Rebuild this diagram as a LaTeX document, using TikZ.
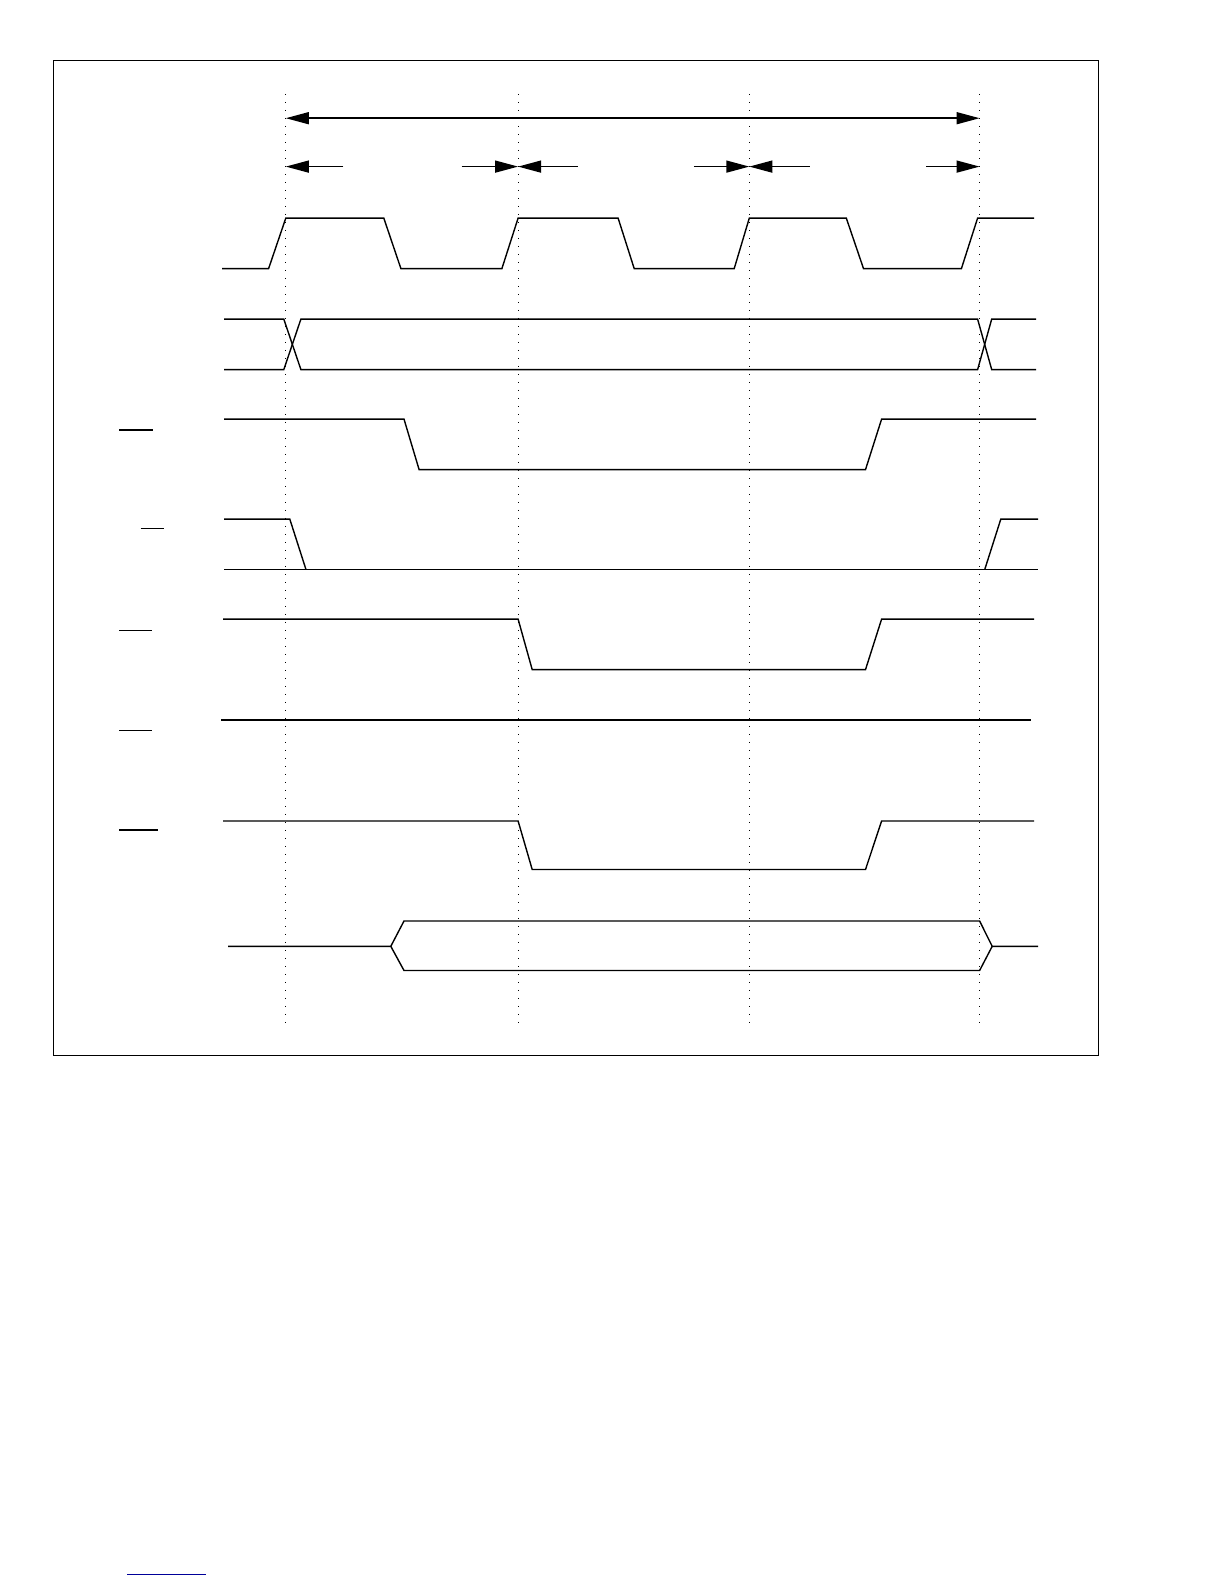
\documentclass[tikz,border=0pt]{standalone}
\usetikzlibrary{arrows.meta}
\begin{document}
\begin{tikzpicture}[x=0.5pt,y=-0.5pt,
  sig/.style={line width=0.7pt,line join=miter},
  guide/.style={line width=0.6pt,dash pattern=on 0.6pt off 3.4pt},
  dim/.style={line width=0.7pt,-{Triangle[length=11.5pt,width=6pt]}},
  dimb/.style={line width=0.7pt,{Triangle[length=11.5pt,width=6pt]}-{Triangle[length=11.5pt,width=6pt]}},
  bar/.style={line width=0.7pt}]
\useasboundingbox (0,0) rectangle (1224,1584);
% frame
\draw[line width=0.6pt] (53.5,60.6) rectangle (1098.8,1055.3);
% guides
\foreach \n/\x in {a/285.8,b/518.1,c/749.3,d/979.6}{
  \coordinate (\n top) at (\x,93.9);
  \coordinate (\n bot) at (\x,1025);
  \coordinate (\n1) at (\x,118.2);
  \coordinate (\n2) at (\x,166.6);
  \draw[guide] (\n top) -- (\n bot);
}
% dimension arrows
\draw[dimb] (a1) -- (d1);
\coordinate (p1) at (343.4,166.6);
\coordinate (p2) at (461.5,166.6);
\coordinate (p3) at (577.7,166.6);
\coordinate (p4) at (693.8,166.6);
\coordinate (p5) at (809.9,166.6);
\coordinate (p6) at (926.1,166.6);
\draw[dim] (p1) -- (a2);
\draw[dim] (p2) -- (b2);
\draw[dim] (p3) -- (b2);
\draw[dim] (p4) -- (c2);
\draw[dim] (p5) -- (c2);
\draw[dim] (p6) -- (d2);
% clock
\draw[sig] (222.2,268.6) -- (268.6,268.6) -- (285.8,218.1) -- (383.8,218.1) -- (400.9,268.6)
  -- (501.9,268.6) -- (518.1,218.1) -- (618.1,218.1) -- (634.2,268.6) -- (734.2,268.6)
  -- (749.3,218.1) -- (846.3,218.1) -- (863.5,268.6) -- (961.4,268.6) -- (977.6,218.1) -- (1034.1,218.1);
% bus row 2
\draw[sig] (224.2,319.1) -- (283.8,319.1) -- (300.9,369.6) -- (977.6,369.6) -- (991.7,319.1) -- (1036.2,319.1);
\draw[sig] (224.2,369.6) -- (283.8,369.6) -- (300.9,319.1) -- (977.6,319.1) -- (991.7,369.6) -- (1036.2,369.6);
% row 3
\draw[sig] (224.2,419.1) -- (404,419.1) -- (419.1,469.6) -- (865.5,469.6) -- (881.6,419.1) -- (1036.2,419.1);
\draw[bar] (119.2,430) -- (152.5,430);
% row 4
\draw[sig] (224.2,569.6) -- (1038.2,569.6);
\draw[sig] (224.2,519.1) -- (289.8,519.1) -- (306,569.6);
\draw[sig] (984.7,569.6) -- (1000.8,519.1) -- (1038.2,519.1);
\draw[bar] (140.5,528.2) -- (163.6,528.2);
% row 5
\draw[sig] (223.2,619.1) -- (518.1,619.1) -- (532.2,669.6) -- (865.5,669.6) -- (881.6,619.1) -- (1034.1,619.1);
\draw[bar] (119.2,630.2) -- (152,630.2);
% row 6
\draw[sig] (221.2,720.1) -- (1031.1,720.1);
\draw[bar] (119.2,730.2) -- (152,730.2);
% row 7
\draw[sig] (223.2,821) -- (518.1,821) -- (532.2,869.5) -- (865.5,869.5) -- (881.6,821) -- (1034.1,821);
\draw[bar] (119.2,830.1) -- (157.8,830.1);
% row 8 bus
\draw[sig] (228.2,946.3) -- (390.8,946.3) -- (404,921) -- (979.6,921) -- (992.2,946.3) -- (1038.2,946.3);
\draw[sig] (390.8,946.3) -- (404,970.5) -- (979.6,970.5) -- (992.2,946.3);
% bottom link underline
\draw[line width=0.6pt,blue!60!black] (127.2,1574.4) -- (206,1574.4);
\end{tikzpicture}
\end{document}
